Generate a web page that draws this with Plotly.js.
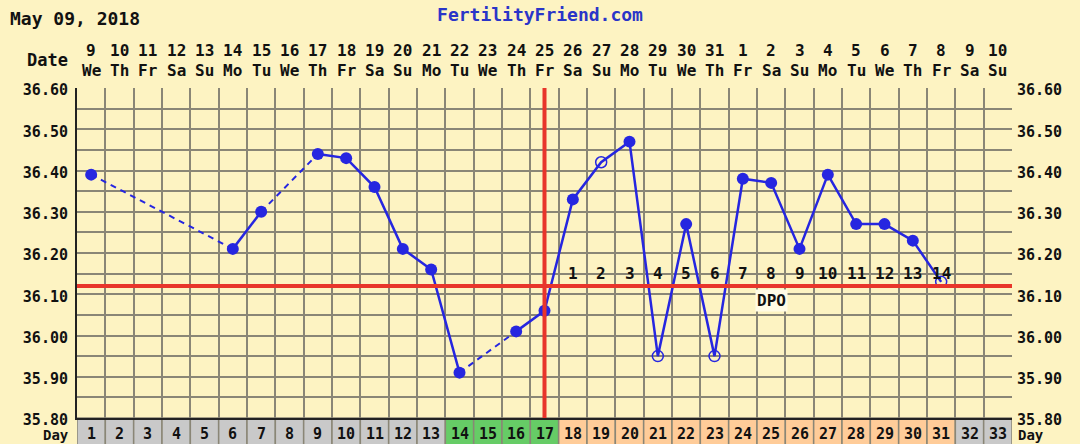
<!DOCTYPE html>
<html>
<head>
<meta charset="utf-8">
<script src="https://cdn.plot.ly/plotly-3.0.1.min.js"></script>
<style>html,body{margin:0;padding:0;background:#fdf3c2;}#chart{width:1080px;height:444px;}</style>
</head>
<body>
<div id="chart"></div>
<script>
// ---- data ----
const cycleDays = [1,2,3,4,5,6,7,8,9,10,11,12,13,14,15,16,17,18,19,20,21,22,23,24,25,26,27,28,29,30,31,32,33];
const dateLabels = ["9","10","11","12","13","14","15","16","17","18","19","20","21","22","23","24","25","26","27","28","29","30","31","1","2","3","4","5","6","7","8","9","10"];
const weekdayLabels = ["We","Th","Fr","Sa","Su","Mo","Tu","We","Th","Fr","Sa","Su","Mo","Tu","We","Th","Fr","Sa","Su","Mo","Tu","We","Th","Fr","Sa","Su","Mo","Tu","We","Th","Fr","Sa","Su"];
const tempDays  = [1, 6, 7, 9, 10, 11, 12, 13, 14, 16, 17, 18, 19, 20, 21, 22, 23, 24, 25, 26, 27, 28, 29, 30, 31];
const temps     = [36.39, 36.21, 36.30, 36.44, 36.43, 36.36, 36.21, 36.16, 35.91, 36.01, 36.06, 36.33, 36.42, 36.47, 35.95, 36.27, 35.95, 36.38, 36.37, 36.21, 36.39, 36.27, 36.27, 36.23, 36.13];
const openPoint = [0,0,0,0,0,0,0,0,0,0,0,0,1,0,1,0,1,0,0,0,0,0,0,0,1];
const fertileDays = [14, 15, 16, 17];
const dpoDays   = [18,19,20,21,22,23,24,25,26,27,28,29,30,31];
const dpoLabels = ["1","2","3","4","5","6","7","8","9","10","11","12","13","14"];
const coverline = 36.12;
const ovulationDay = 17;
const yTickVals = [35.8, 35.9, 36.0, 36.1, 36.2, 36.3, 36.4, 36.5, 36.6];

// ---- style ----
const FONT = "DejaVu Sans Mono, Liberation Mono, monospace";
const BG = "#fdf3c2";
const GRID = "#8a8676";
const BLUE = "#2626e0";
const RED = "#e8352b";

// solid segments: consecutive days only
const solidY = cycleDays.map(d => { const i = tempDays.indexOf(d); return i >= 0 ? temps[i] : null; });
// dashed segments bridging gaps
const dashX = [], dashY = [];
for (let i = 1; i < tempDays.length; i++) {
  if (tempDays[i] - tempDays[i-1] > 1) {
    dashX.push(tempDays[i-1], tempDays[i], null);
    dashY.push(temps[i-1], temps[i], null);
  }
}
const filledX = [], filledY = [], openX = [], openY = [];
tempDays.forEach((d, i) => {
  if (openPoint[i]) { openX.push(d); openY.push(temps[i]); }
  else { filledX.push(d); filledY.push(temps[i]); }
});

const traces = [
  {x: dashX, y: dashY, mode: 'lines', line: {color: BLUE, width: 2, dash: '6px,5px'}, hoverinfo: 'skip', showlegend: false},
  {x: cycleDays, y: solidY, mode: 'lines', connectgaps: false, line: {color: BLUE, width: 2.5}, showlegend: false},
  {x: filledX, y: filledY, mode: 'markers', marker: {color: BLUE, size: 12, symbol: 'circle'}, showlegend: false},
  {x: openX, y: openY, mode: 'markers', marker: {color: BLUE, size: 11, symbol: 'circle-open', line: {width: 1.5, color: BLUE}}, showlegend: false},
  {x: [cycleDays[0]], y: [yTickVals[0]], yaxis: 'y2', mode: 'markers', marker: {opacity: 0}, hoverinfo: 'skip', showlegend: false}
];

const annotations = [];
const labFont = {family: FONT, size: 16, color: '#111', weight: 'bold'};
const dayFont = {family: FONT, size: 15, color: '#111', weight: 'bold'};
const dayWordFont = {family: FONT, size: 14, color: '#111', weight: 'bold'};
const dayRowY = -26 / 330; // bottom of the page in paper units
cycleDays.forEach((d, i) => {
  annotations.push({x: d, y: 1.115, xref: 'x', yref: 'paper', text: dateLabels[i], showarrow: false, font: labFont, yanchor: 'middle'});
  annotations.push({x: d, y: 1.054, xref: 'x', yref: 'paper', text: weekdayLabels[i], showarrow: false, font: labFont, yanchor: 'middle'});
  annotations.push({x: d, y: dayRowY, xref: 'x', yref: 'paper', text: String(d), showarrow: false, font: dayFont, yanchor: 'bottom', borderpad: 0});
});
dpoDays.forEach((d, i) => {
  annotations.push({x: d, y: coverline + 0.03, xref: 'x', yref: 'y', text: dpoLabels[i], showarrow: false, font: {family: FONT, size: 16, color: '#111', weight: 'bold'}, yanchor: 'middle'});
});
annotations.push({x: 25, y: coverline - 0.034, xref: 'x', yref: 'y', text: 'DPO', showarrow: false, font: {family: FONT, size: 16, color: '#111', weight: 'bold'}, bgcolor: '#fffbe6', borderpad: 1, yanchor: 'middle'});
annotations.push({x: -0.008, y: 1.085, xref: 'paper', yref: 'paper', text: 'Date', showarrow: false, xanchor: 'right', yanchor: 'middle', font: {family: FONT, size: 17, color: '#111', weight: 'bold'}});
annotations.push({x: -0.008, y: dayRowY, xref: 'paper', yref: 'paper', text: 'Day', showarrow: false, xanchor: 'right', yanchor: 'bottom', borderpad: 0, font: dayWordFont});
annotations.push({x: 1.005, y: dayRowY, xref: 'paper', yref: 'paper', text: 'Day', showarrow: false, xanchor: 'left', yanchor: 'bottom', borderpad: 0, font: dayWordFont});
annotations.push({x: -0.074, y: 1.21, xref: 'paper', yref: 'paper', text: 'May 09, 2018', showarrow: false, xanchor: 'left', yanchor: 'middle', font: {family: FONT, size: 18, color: '#111', weight: 'bold'}});

const shapes = [];
cycleDays.forEach(d => {
  let fill = '#c9c9c9';
  if (fertileDays.includes(d)) fill = '#66cc66';
  else if (dpoDays.includes(d)) fill = '#ffcc99';
  shapes.push({type: 'rect', xref: 'x', yref: 'paper', x0: d - 0.5, x1: d + 0.5, y0: -0.085, y1: 0, fillcolor: fill, line: {color: GRID, width: 1.5}, layer: 'below'});
});
shapes.push({type: 'line', xref: 'paper', yref: 'y', x0: 0, x1: 1, y0: coverline, y1: coverline, line: {color: RED, width: 4}});
shapes.push({type: 'line', xref: 'x', yref: 'paper', x0: ovulationDay, x1: ovulationDay, y0: 0, y1: 1, line: {color: RED, width: 4}});

const yAxisCommon = {
  range: [35.8, 36.6], tickvals: yTickVals, tickformat: '.2f', ticks: '',
  tickfont: {family: FONT, size: 15, color: '#111', weight: 'bold'},
  ticklabelshift: 2,
  showgrid: false, zeroline: false, fixedrange: true
};

const layout = {
  width: 1080, height: 444,
  margin: {l: 77, r: 68, t: 88, b: 26},
  paper_bgcolor: BG, plot_bgcolor: BG,
  title: {text: 'FertilityFriend.com', x: 0.5, xref: 'container', xanchor: 'center', y: 0.966, yref: 'container', yanchor: 'middle',
          font: {family: FONT, size: 18, color: '#2a35c8', weight: 'bold'}},
  xaxis: {range: [0.5, 33.5], tick0: 0.5, dtick: 1, showticklabels: false, ticks: '', showgrid: true, gridcolor: GRID, gridwidth: 2, zeroline: false, showline: true, linecolor: '#222', linewidth: 2, fixedrange: true},
  yaxis: Object.assign({}, yAxisCommon, {side: 'left', showgrid: true, gridcolor: GRID, gridwidth: 2,
          minor: {dtick: 0.05, showgrid: true, gridcolor: GRID, gridwidth: 2}, showline: true, linecolor: '#222', linewidth: 2, ticklabelstandoff: 4}),
  yaxis2: Object.assign({}, yAxisCommon, {side: 'right', overlaying: 'y', matches: 'y', showline: false, ticklabelstandoff: 4}),
  shapes: shapes,
  annotations: annotations,
  showlegend: false
};

Plotly.newPlot('chart', traces, layout, {staticPlot: true, displayModeBar: false});
</script>
</body>
</html>
